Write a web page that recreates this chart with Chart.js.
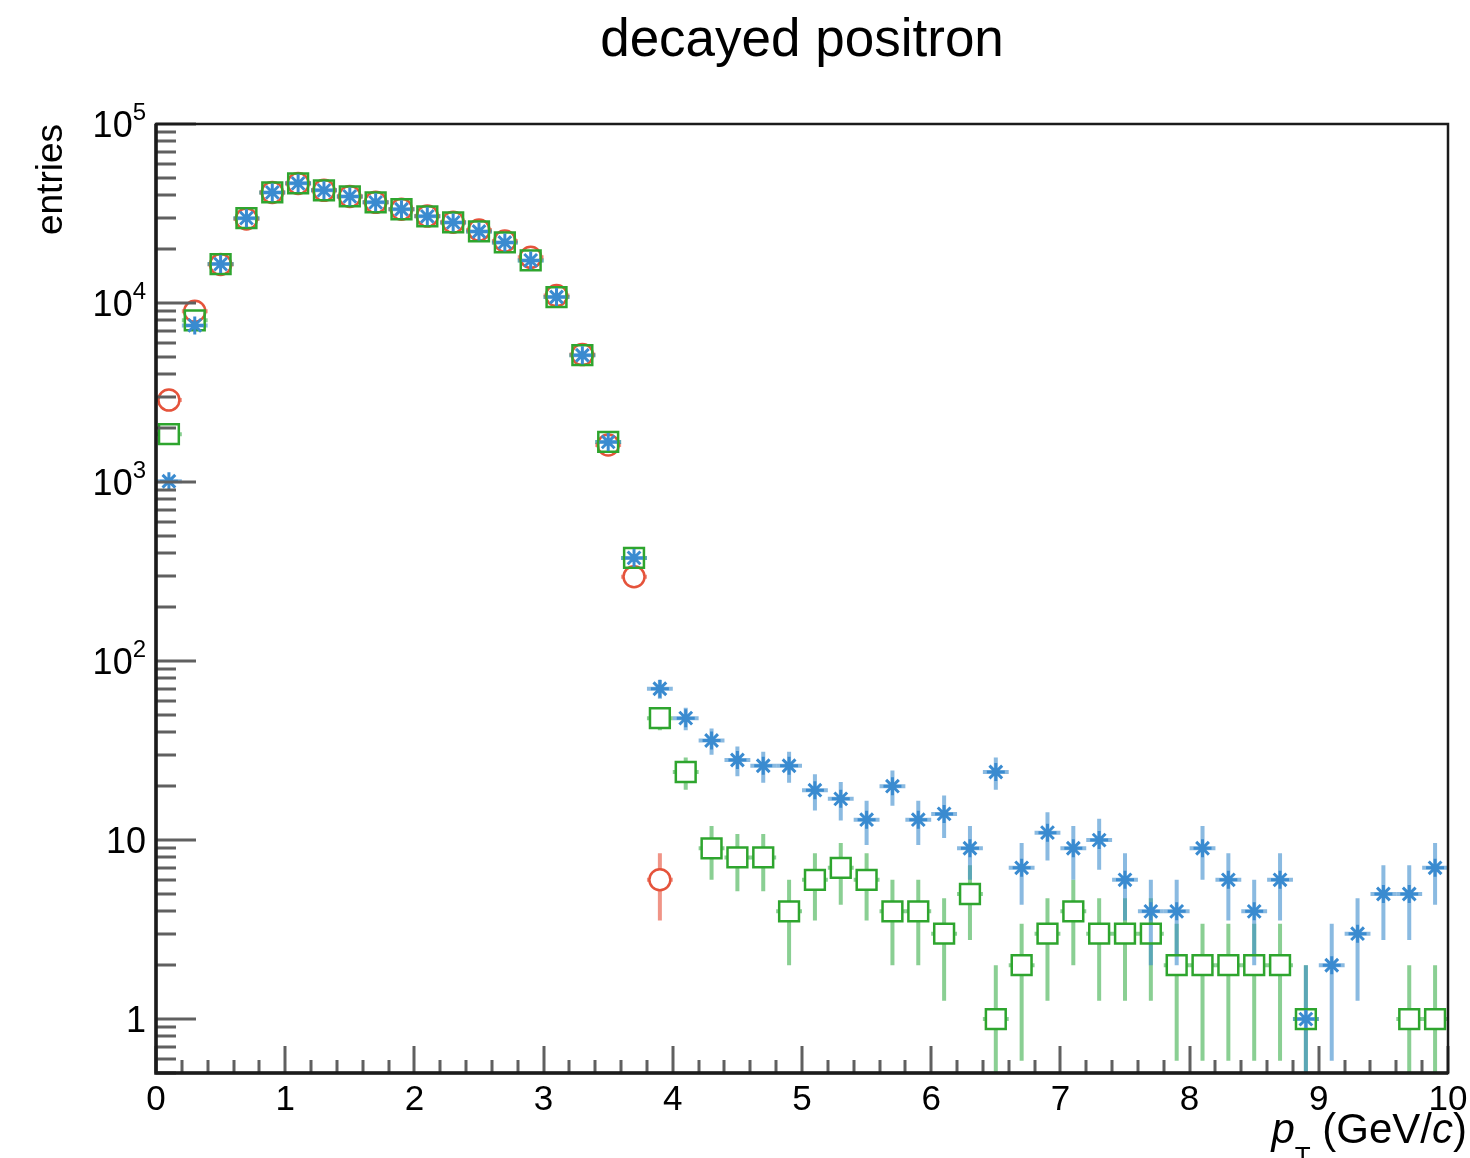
<!DOCTYPE html>
<html>
<head>
<meta charset="utf-8">
<script src="https://cdn.jsdelivr.net/npm/chart.js@4/dist/chart.umd.min.js"></script>
<style>
  html, body { margin: 0; padding: 0; background: #fff; }
  #chart { display: block; }
</style>
</head>
<body>
<canvas id="chart"></canvas>
<script>
// bin centres of the pT histogram (GeV/c), bin width 0.2
const binCenters = [
  0.1, 0.3, 0.5, 0.7, 0.9, 1.1, 1.3, 1.5, 1.7, 1.9,
  2.1, 2.3, 2.5, 2.7, 2.9, 3.1, 3.3, 3.5, 3.7, 3.9,
  4.1, 4.3, 4.5, 4.7, 4.9, 5.1, 5.3, 5.5, 5.7, 5.9,
  6.1, 6.3, 6.5, 6.7, 6.9, 7.1, 7.3, 7.5, 7.7, 7.9,
  8.1, 8.3, 8.5, 8.7, 8.9, 9.1, 9.3, 9.5, 9.7, 9.9
];
const binHalfWidth = 0.1;

// entries per bin, null = empty bin (not drawn on log axis)
const redEntries = [
  2870, 9000, 16400, 29500, 41500, 46500, 42600, 39400, 36500, 33400,
  30600, 28300, 25600, 22200, 18000, 11000, 5150, 1610, 296, 6,
  null, null, null, null, null, null, null, null, null, null,
  null, null, null, null, null, null, null, null, null, null,
  null, null, null, null, null, null, null, null, null, null
];
const greenEntries = [
  1850, 8000, 16500, 29800, 41500, 46600, 42600, 39400, 36500, 33400,
  30500, 28200, 25100, 21800, 17300, 10800, 5110, 1675, 377, 48,
  24, 9, 8, 8, 4, 6, 7, 6, 4, 4,
  3, 5, 1, 2, 3, 4, 3, 3, 3, 2,
  2, 2, 2, 2, 1, null, null, null, 1, 1
];
const blueEntries = [
  1010, 7500, 16500, 29800, 41500, 46600, 42600, 39400, 36500, 33400,
  30500, 28200, 25100, 21800, 17300, 10800, 5110, 1675, 377, 70,
  48, 36, 28, 26, 26, 19, 17, 13, 20, 13,
  14, 9, 24, 7, 11, 9, 10, 6, 4, 4,
  9, 6, 4, 6, 1, 2, 3, 5, 5, 7
];

// axis labels
const xTickValues = [0, 1, 2, 3, 4, 5, 6, 7, 8, 9, 10];
const yTickValues = [1, 10, 100, 1000, 10000, 100000];
const yTickBase = ['1', '10', '10', '10', '10', '10'];
const yTickExp = ['', '', '2', '3', '4', '5'];

const FONT = "'Liberation Sans', Arial, Helvetica, sans-serif";

const ctx = document.getElementById('chart').getContext('2d');
ctx.canvas.width = 1470;
ctx.canvas.height = 1158;

function toPoints(values) {
  const pts = [];
  values.forEach((v, i) => { if (v != null && v > 0) pts.push({ x: binCenters[i], y: v }); });
  return pts;
}

// Poisson error bars sqrt(N), with a gap where a hollow marker sits (like ROOT)
const errorBars = {
  id: 'errorBars',
  beforeDatasetsDraw(chart) {
    const { ctx, chartArea: a, scales: { x, y } } = chart;
    ctx.save();
    ctx.beginPath();
    ctx.rect(a.left, a.top, a.right - a.left, a.bottom - a.top);
    ctx.clip();
    // draw from the bottom dataset up
    for (let d = chart.data.datasets.length - 1; d >= 0; d--) {
      const ds = chart.data.datasets[d];
      ctx.strokeStyle = ds.errColor;
      ctx.lineWidth = 4;
      const gap = ds.errGap;
      ds.data.forEach(p => {
        const e = Math.sqrt(p.y);
        const px = x.getPixelForValue(p.x);
        const py = y.getPixelForValue(p.y);
        const hi = y.getPixelForValue(p.y + e);
        const lo = p.y - e > 0 ? y.getPixelForValue(p.y - e) : a.bottom + 5;
        const xl = x.getPixelForValue(p.x - binHalfWidth);
        const xr = x.getPixelForValue(p.x + binHalfWidth);
        ctx.beginPath();
        if (hi < py - gap) { ctx.moveTo(px, hi); ctx.lineTo(px, py - gap); }
        if (lo > py + gap) { ctx.moveTo(px, py + gap); ctx.lineTo(px, lo); }
        if (xl < px - gap) { ctx.moveTo(xl, py); ctx.lineTo(px - gap, py); }
        if (xr > px + gap) { ctx.moveTo(px + gap, py); ctx.lineTo(xr, py); }
        ctx.stroke();
      });
    }
    ctx.restore();
  }
};

// ROOT style frame: inward ticks, superscript labels, axis titles
const rootFrame = {
  id: 'rootFrame',
  afterDraw(chart) {
    const { ctx, chartArea: a, scales: { x, y } } = chart;
    ctx.save();

    // ticks
    ctx.strokeStyle = '#606060';
    ctx.lineWidth = 3;
    ctx.beginPath();
    for (let dec = 0.1; dec <= 1e5; dec *= 10) {
      for (let m = 1; m <= 9; m++) {
        const v = dec * m;
        if (v < y.min - 1e-9 || v > y.max * 1.0001) continue;
        const py = Math.round(y.getPixelForValue(v));
        const len = m === 1 ? 40 : 20;
        ctx.moveTo(a.left, py);
        ctx.lineTo(a.left + len, py);
      }
    }
    for (let i = 0; i <= 50; i++) {
      const px = Math.round(x.getPixelForValue(i * 0.2));
      const len = i % 5 === 0 ? 27 : 13;
      ctx.moveTo(px, a.bottom);
      ctx.lineTo(px, a.bottom - len);
    }
    ctx.stroke();

    // frame
    ctx.strokeStyle = '#1b1b1b';
    ctx.lineWidth = 2.5;
    ctx.strokeRect(a.left, a.top, a.right - a.left, a.bottom - a.top);
    ctx.lineWidth = 3.5;
    ctx.beginPath();
    ctx.moveTo(a.left, a.top);
    ctx.lineTo(a.left, a.bottom);
    ctx.lineTo(a.right, a.bottom);
    ctx.stroke();

    // y tick labels
    ctx.fillStyle = '#000';
    ctx.textBaseline = 'alphabetic';
    const right = 146;
    yTickValues.forEach((v, i) => {
      const py = y.getPixelForValue(v);
      ctx.font = '24px ' + FONT;
      const we = yTickExp[i] ? ctx.measureText(yTickExp[i]).width : 0;
      if (yTickExp[i]) {
        ctx.textAlign = 'right';
        ctx.fillText(yTickExp[i], right, py - 4);
      }
      ctx.font = '36px ' + FONT;
      ctx.textAlign = 'right';
      ctx.fillText(yTickBase[i], right - we, py + 13);
    });

    // y title
    ctx.save();
    ctx.translate(62, a.top);
    ctx.rotate(-Math.PI / 2);
    ctx.font = '37px ' + FONT;
    ctx.textAlign = 'right';
    ctx.textBaseline = 'alphabetic';
    ctx.fillText('entries', 0, 0);
    ctx.restore();

    // x title: p_T (GeV/c)
    const base = 1143;
    const parts = [
      { t: 'p', f: 'italic 42px ' + FONT, dy: 0 },
      { t: 'T', f: '26px ' + FONT, dy: 22 },
      { t: ' (GeV/', f: '42px ' + FONT, dy: 0 },
      { t: 'c', f: 'italic 42px ' + FONT, dy: 0 },
      { t: ')', f: '42px ' + FONT, dy: 0 }
    ];
    let total = 0;
    parts.forEach(p => { ctx.font = p.f; p.w = ctx.measureText(p.t).width; total += p.w; });
    let cx = 1467 - total;
    ctx.textAlign = 'left';
    parts.forEach(p => { ctx.font = p.f; ctx.fillText(p.t, cx, base + p.dy); cx += p.w; });

    ctx.restore();
  }
};

const chart = new Chart(ctx, {
  type: 'scatter',
  data: {
    datasets: [
      {
        label: 'blue',
        data: toPoints(blueEntries),
        pointStyle: 'star',
        pointRadius: 9,
        pointHoverRadius: 9,
        pointBorderWidth: 3,
        pointBorderColor: '#3a8bd0',
        pointBackgroundColor: 'rgba(0,0,0,0)',
        errColor: 'rgba(60,140,205,0.6)',
        errGap: 0
      },
      {
        label: 'green',
        data: toPoints(greenEntries),
        pointStyle: 'rect',
        pointRadius: 14,
        pointHoverRadius: 14,
        pointBorderWidth: 2.5,
        pointBorderColor: '#2ea52e',
        pointBackgroundColor: 'rgba(0,0,0,0)',
        errColor: 'rgba(60,175,75,0.6)',
        errGap: 10
      },
      {
        label: 'red',
        data: toPoints(redEntries),
        pointStyle: 'circle',
        pointRadius: 10.5,
        pointHoverRadius: 10.5,
        pointBorderWidth: 2.5,
        pointBorderColor: '#e5533b',
        pointBackgroundColor: 'rgba(0,0,0,0)',
        errColor: 'rgba(232,90,70,0.65)',
        errGap: 10.5
      }
    ]
  },
  options: {
    responsive: false,
    animation: false,
    layout: { autoPadding: false, padding: { left: 156, right: 22, top: 0, bottom: 31 } },
    plugins: {
      legend: { display: false },
      tooltip: { enabled: false },
      title: {
        display: true,
        text: 'decayed positron',
        fullSize: false,
        color: '#000',
        font: { family: FONT, size: 53, weight: 'normal', lineHeight: 1.2 },
        padding: { top: 10, bottom: 50.4 }
      }
    },
    scales: {
      x: {
        type: 'linear',
        min: 0,
        max: 10,
        afterBuildTicks: (scale) => { scale.ticks = xTickValues.map(v => ({ value: v })); },
        // labels may overhang the frame like in ROOT, so no extra side padding
        afterFit: (scale) => { scale.paddingLeft = 0; scale.paddingRight = 0; },
        ticks: {
          color: '#000',
          font: { family: FONT, size: 35, lineHeight: 1 },
          padding: 9.5,
          maxRotation: 0,
          autoSkip: false,
          callback: (v) => String(v)
        },
        grid: { display: false, drawTicks: false },
        border: { display: false }
      },
      y: {
        type: 'logarithmic',
        min: 0.5,
        max: 100000,
        display: false
      }
    }
  },
  plugins: [errorBars, rootFrame]
});
</script>
</body>
</html>
